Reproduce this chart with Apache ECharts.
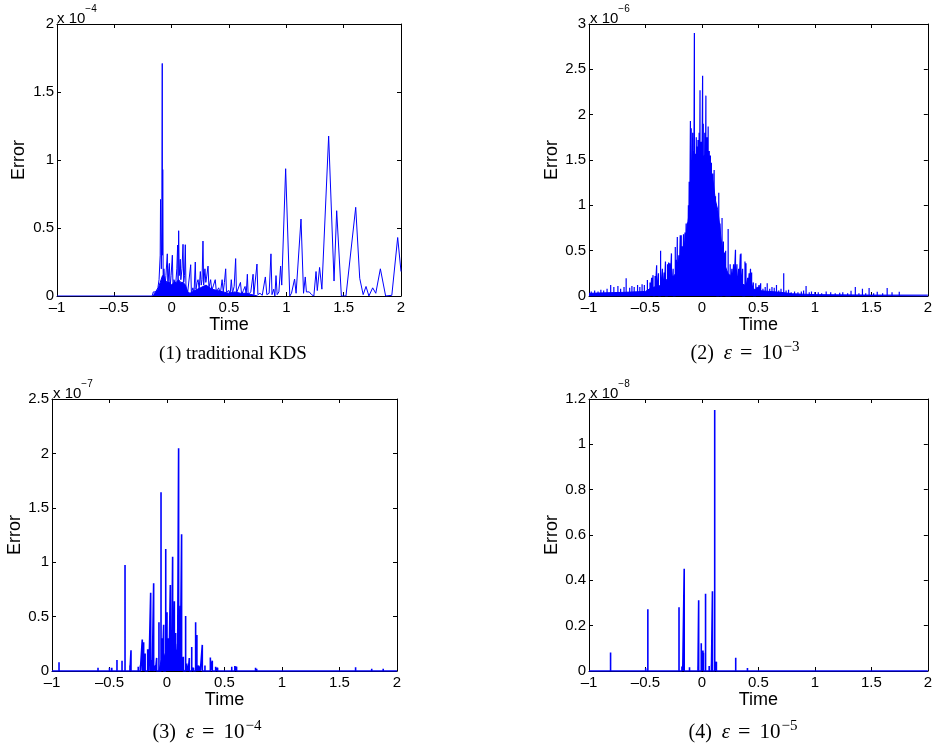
<!DOCTYPE html>
<html><head><meta charset="utf-8">
<script src="https://cdn.jsdelivr.net/npm/echarts@6/dist/echarts.min.js"></script>
<style>html,body{margin:0;padding:0;background:#fff}#c{width:935px;height:746px}</style>
</head><body><div id="c"></div>
<script>
// ---- Data (values in units of the axis exponent) ----
const xTickLabels = ['–1','–0.5','0','0.5','1','1.5','2'];
const exponents = ['−4','−6','−7','−8'];
const captionIds = ['(1)','(2)','(3)','(4)'];
const captionExps = [null,'−3','−4','−5'];

// Panel 1: traditional KDS, error x1e-4 (polyline)
const p1Curve = [[-1,0],[-0.17,0],[-0.16,0.03],[-0.15,0.02],[-0.14,0.03],[-0.13,0.02],[-0.12,0.06],[-0.11,0.12],[-0.10,0.3],[-0.097,0.71],[-0.09,0.2],[-0.086,0.5],[-0.082,1.71],[-0.080,0.3],[-0.078,0.93],[-0.074,0.1],[-0.068,0.2],[-0.064,0.21],[-0.058,0.08],[-0.05,0.15],[-0.038,0.31],[-0.033,0.05],[-0.025,0.2],[-0.02,0.24],[-0.014,0.06],[-0.005,0.15],[0.006,0.3],[0.012,0.05],[0.02,0.12],[0.035,0.08],[0.045,0.2],[0.052,0.375],[0.056,0.1],[0.061,0.48],[0.066,0.15],[0.075,0.27],[0.08,0.12],[0.09,0.2],[0.099,0.38],[0.105,0.1],[0.112,0.15],[0.119,0.377],[0.125,0.05],[0.14,0.03],[0.155,0.02],[0.166,0.23],[0.172,0.02],[0.185,0.06],[0.195,0.02],[0.206,0.25],[0.212,0.05],[0.222,0.1],[0.23,0.12],[0.24,0.05],[0.25,0.18],[0.258,0.08],[0.265,0.12],[0.273,0.404],[0.279,0.08],[0.29,0.2],[0.298,0.1],[0.305,0.14],[0.317,0.22],[0.325,0.06],[0.34,0.12],[0.35,0.04],[0.365,0.08],[0.38,0.12],[0.39,0.03],[0.41,0.06],[0.425,0.02],[0.44,0.12],[0.45,0.03],[0.46,0.1],[0.471,0.2],[0.478,0.03],[0.49,0.02],[0.5,0.04],[0.51,0.01],[0.52,0.12],[0.53,0.02],[0.545,0.07],[0.558,0.275],[0.565,0.02],[0.58,0.02],[0.6,0.1],[0.61,0.01],[0.625,0.04],[0.64,0.07],[0.65,0.01],[0.66,0.16],[0.667,0.01],[0.69,0.03],[0.71,0.16],[0.717,0.01],[0.73,0.02],[0.744,0.235],[0.752,0.01],[0.77,0.02],[0.79,0.005],[0.817,0.14],[0.83,0.01],[0.85,0.02],[0.866,0.31],[0.875,0.01],[0.885,0.02],[0.89,0.05],[0.9,0.0],[0.91,0.15],[0.92,0.01],[0.935,0.03],[0.95,0.22],[0.96,0.08],[0.994,0.936],[1.03,0.0],[1.045,0.02],[1.055,0.02],[1.072,0.125],[1.085,0.02],[1.1,0.03],[1.128,0.566],[1.15,0.02],[1.165,0.14],[1.175,0.03],[1.19,0.02],[1.2,0.03],[1.22,0.01],[1.24,0.0],[1.259,0.18],[1.27,0.04],[1.29,0.21],[1.31,0.05],[1.369,1.176],[1.416,0.11],[1.439,0.627],[1.48,0.0],[1.52,0.0],[1.535,0.0],[1.605,0.652],[1.64,0.13],[1.67,0.01],[1.695,0.07],[1.72,0.0],[1.753,0.06],[1.78,0.02],[1.82,0.2],[1.866,0.0],[1.92,0.005],[1.971,0.43],[2.0,0.18]];
const p1Body = [[-0.16,0],[-0.15,0.02],[-0.12,0.05],[-0.1,0.1],[-0.08,0.15],[-0.06,0.12],[-0.04,0.1],[-0.02,0.1],[0,0.08],[0.02,0.1],[0.04,0.1],[0.06,0.12],[0.08,0.1],[0.1,0.1],[0.12,0.08],[0.14,0.03],[0.16,0.02],[0.2,0.04],[0.25,0.06],[0.3,0.08],[0.35,0.05],[0.4,0.04],[0.45,0.03],[0.5,0.02],[0.55,0.03],[0.6,0.02],[0.65,0.02],[0.7,0.01],[0.75,0]];

// Panel 2: eps = 1e-3, error x1e-6
const p2Body = [[-1,0.03],[-0.7,0.04],[-0.5,0.05],[-0.45,0.09],[-0.35,0.12],[-0.3,0.2],[-0.25,0.22],[-0.2,0.3],[-0.17,0.45],[-0.14,0.65],[-0.12,0.85],[-0.1,1.1],[-0.08,1.35],[-0.06,1.45],[-0.03,1.5],[0,1.45],[0.03,1.45],[0.06,1.4],[0.08,1.35],[0.1,1.25],[0.12,1.05],[0.14,0.95],[0.16,0.75],[0.18,0.5],[0.2,0.35],[0.23,0.25],[0.27,0.2],[0.32,0.15],[0.38,0.12],[0.45,0.08],[0.5,0.06],[0.6,0.05],[0.7,0.04],[0.8,0.025],[0.9,0.02],[1.0,0.015],[1.5,0.01],[2.0,0.01]];
const p2Spikes = [[-0.98,0.05],[-0.95,0.06],[-0.92,0.05],[-0.895,0.07],[-0.87,0.06],[-0.84,0.08],[-0.808,0.12],[-0.78,0.1],[-0.744,0.11],[-0.72,0.08],[-0.69,0.1],[-0.671,0.195],[-0.64,0.09],[-0.62,0.11],[-0.6,0.1],[-0.57,0.12],[-0.55,0.1],[-0.53,0.13],[-0.51,0.12],[-0.483,0.177],[-0.46,0.15],[-0.445,0.2],[-0.433,0.23],[-0.415,0.22],[-0.401,0.34],[-0.385,0.25],[-0.366,0.5],[-0.35,0.3],[-0.335,0.26],[-0.323,0.38],[-0.305,0.35],[-0.295,0.37],[-0.285,0.36],[-0.27,0.47],[-0.255,0.3],[-0.236,0.54],[-0.225,0.4],[-0.218,0.65],[-0.205,0.45],[-0.192,0.67],[-0.183,0.67],[-0.173,0.55],[-0.163,0.68],[-0.15,0.7],[-0.14,0.8],[-0.128,0.81],[-0.12,1.0],[-0.113,1.26],[-0.102,1.93],[-0.095,1.85],[-0.082,1.80],[-0.075,1.6],[-0.067,2.90],[-0.058,1.57],[-0.05,1.75],[-0.042,1.65],[-0.035,1.72],[-0.025,1.8],[-0.017,2.27],[-0.008,1.7],[0.006,2.43],[0.012,1.9],[0.017,1.55],[0.025,1.8],[0.035,2.21],[0.045,1.75],[0.055,1.87],[0.065,1.6],[0.075,1.55],[0.084,1.47],[0.095,1.35],[0.108,1.39],[0.12,1.1],[0.13,0.95],[0.149,1.14],[0.16,0.8],[0.178,0.86],[0.19,0.6],[0.2,0.48],[0.21,0.5],[0.232,0.74],[0.25,0.35],[0.265,0.3],[0.28,0.35],[0.297,0.51],[0.31,0.35],[0.325,0.3],[0.34,0.46],[0.346,0.47],[0.36,0.3],[0.381,0.38],[0.39,0.36],[0.405,0.2],[0.418,0.25],[0.43,0.3],[0.44,0.26],[0.455,0.15],[0.477,0.14],[0.49,0.1],[0.505,0.12],[0.52,0.14],[0.54,0.08],[0.56,0.1],[0.578,0.14],[0.6,0.08],[0.62,0.1],[0.64,0.09],[0.66,0.12],[0.68,0.06],[0.7,0.08],[0.724,0.25],[0.745,0.06],[0.767,0.07],[0.79,0.04],[0.82,0.05],[0.85,0.04],[0.88,0.05],[0.9,0.06],[0.922,0.11],[0.95,0.04],[0.97,0.05],[1.0,0.045],[1.03,0.04],[1.06,0.03],[1.1,0.05],[1.14,0.04],[1.18,0.03],[1.22,0.035],[1.247,0.04],[1.29,0.03],[1.32,0.058],[1.358,0.1],[1.39,0.03],[1.421,0.08],[1.45,0.03],[1.48,0.088],[1.52,0.03],[1.552,0.047],[1.6,0.03],[1.64,0.088],[1.683,0.04],[1.72,0.02],[1.747,0.047],[1.8,0.02],[1.886,0.02],[1.93,0.02]];

// Panel 3: eps = 1e-4, error x1e-7
const p3Body = [[-0.07,0],[-0.05,0.1],[-0.02,0.15],[0,0.2],[0.03,0.25],[0.06,0.22],[0.09,0.18],[0.11,0.12],[0.13,0.05],[0.15,0]];
const p3Spikes = [[-0.939,0.08],[-0.85,0.015],[-0.75,0.01],[-0.6,0.03],[-0.5,0.03],[-0.48,0.03],[-0.435,0.1],[-0.391,0.095],[-0.365,0.974],[-0.322,0.05],[-0.313,0.19],[-0.25,0.04],[-0.232,0.05],[-0.215,0.29],[-0.203,0.265],[-0.19,0.16],[-0.168,0.2],[-0.157,0.2],[-0.142,0.72],[-0.128,0.1],[-0.116,0.806],[-0.1,0.05],[-0.09,0.12],[-0.07,0.447],[-0.052,1.643],[-0.04,0.3],[-0.029,0.425],[-0.011,1.121],[0.0,0.54],[0.008,0.3],[0.017,0.16],[0.029,0.79],[0.04,0.37],[0.049,1.05],[0.057,0.4],[0.064,0.64],[0.075,0.35],[0.084,0.19],[0.092,0.25],[0.101,2.047],[0.116,0.6],[0.127,1.256],[0.142,0.13],[0.162,0.505],[0.172,0.07],[0.185,0.05],[0.194,0.12],[0.215,0.22],[0.23,0.03],[0.249,0.447],[0.26,0.33],[0.275,0.05],[0.29,0.04],[0.307,0.24],[0.33,0.05],[0.377,0.125],[0.394,0.095],[0.423,0.04],[0.44,0.03],[0.5,0.01],[0.563,0.04],[0.59,0.045],[0.605,0.04],[0.77,0.03],[0.78,0.02],[1.64,0.035],[1.78,0.02],[1.88,0.02]];

// Panel 4: eps = 1e-5, error x1e-8
const p4Spikes = [[-0.809,0.082],[-0.58,0.005],[-0.498,0.012],[-0.479,0.272],[-0.203,0.281],[-0.177,0.02],[-0.17,0.02],[-0.157,0.451],[-0.11,0.016],[-0.07,0.006],[-0.035,0.02],[-0.029,0.312],[-0.006,0.122],[0.009,0.09],[0.013,0.08],[0.032,0.341],[0.064,0.022],[0.084,0.028],[0.093,0.352],[0.113,1.151],[0.128,0.041],[0.264,0.004],[0.299,0.059],[0.403,0.013]];

// ---- Build ----
const BLUE = '#0000ff';
const SANS = 'Liberation Sans, Arial, sans-serif';
const SERIF = 'Liberation Serif, Times New Roman, serif';

function spikeLine(sp) {
  const s = sp.slice().sort((a, b) => a[0] - b[0]);
  const out = [[-1, 0]];
  s.forEach(([t, v]) => { out.push([t, 0], [t, v], [t, 0]); });
  out.push([2, 0]);
  return out;
}
function fmtNum(v) {
  const r = +(+v).toFixed(3);
  return (r < 0 ? '–' : '') + String(Math.abs(r));
}
function capText(i) {
  if (!captionExps[i]) return '{t|' + captionIds[i] + ' traditional KDS}';
  return '{p|' + captionIds[i] + '}{e|ε}{q|=}{n|10}{s|' + captionExps[i] + '}';
}

const panels = [
  { grid: {left: 57, top: 24, width: 344, height: 272}, ymax: 2, yint: 0.5, nameGap: 29, expPos: [57, 4], capPos: [233, 340] },
  { grid: {left: 589, top: 24, width: 344, height: 272}, ymax: 3, yint: 0.5, nameGap: 18, expPos: [590, 4], capPos: [745, 340] },
  { grid: {left: 52, top: 399, width: 345, height: 272}, ymax: 2.5, yint: 0.5, nameGap: 19, expPos: [53, 379], capPos: [207, 719] },
  { grid: {left: 589, top: 399, width: 345, height: 272}, ymax: 1.2, yint: 0.2, nameGap: 19, expPos: [590, 379], capPos: [743, 719] }
];

const axisLine = {show: true, onZero: false, lineStyle: {color: '#000', width: 1}};
const axisTick = {show: true, inside: true, length: 4, lineStyle: {color: '#000', width: 1}};
const capRich = {
  t: {fontSize: 19, fontFamily: SERIF, fontWeight: 'normal', color: '#000', lineHeight: 24, verticalAlign: 'bottom'},
  p: {fontSize: 20, fontFamily: SERIF, fontWeight: 'normal', color: '#000', lineHeight: 24, verticalAlign: 'bottom', padding: [0, 10, 0, 0]},
  e: {fontSize: 21, fontFamily: SERIF, fontWeight: 'normal', fontStyle: 'italic', color: '#000', lineHeight: 24, verticalAlign: 'bottom', padding: [0, 8, 0, 0]},
  q: {fontSize: 22, fontFamily: SERIF, fontWeight: 'normal', color: '#000', lineHeight: 24, verticalAlign: 'bottom', padding: [0, 9, 0, 0]},
  n: {fontSize: 21, fontFamily: SERIF, fontWeight: 'normal', color: '#000', lineHeight: 24, verticalAlign: 'bottom', padding: [0, 1, 0, 0]},
  s: {fontSize: 15, fontFamily: SERIF, fontWeight: 'normal', color: '#000', lineHeight: 15, verticalAlign: 'top'}
};

const grid = [], xAxis = [], yAxis = [], title = [], series = [];
panels.forEach((p, g) => {
  grid.push(Object.assign({containLabel: false, show: false}, p.grid));
  const xb = {type: 'value', gridIndex: g, min: -1, max: 2, interval: 0.5, splitLine: {show: false}, axisLine, axisTick};
  xAxis.push(Object.assign({}, xb, {position: 'bottom', name: 'Time', nameLocation: 'middle', nameGap: 17,
    nameTextStyle: {fontSize: 18, color: '#000', fontFamily: SANS},
    axisLabel: {fontSize: 15, color: '#000', margin: 4, fontFamily: SANS,
      formatter: v => { const i = Math.round((v + 1) / 0.5); return xTickLabels[i] !== undefined ? xTickLabels[i] : fmtNum(v); }}}));
  xAxis.push(Object.assign({}, xb, {position: 'top', axisLabel: {show: false}}));
  const yb = {type: 'value', gridIndex: g, min: 0, max: p.ymax, interval: p.yint, splitLine: {show: false}, axisLine, axisTick};
  yAxis.push(Object.assign({}, yb, {position: 'left', name: 'Error', nameLocation: 'middle', nameRotate: 90, nameGap: p.nameGap,
    nameTextStyle: {fontSize: 18, color: '#000', fontFamily: SANS},
    axisLabel: {fontSize: 15, color: '#000', margin: 3, fontFamily: SANS, formatter: v => fmtNum(v)}}));
  yAxis.push(Object.assign({}, yb, {position: 'right', axisLabel: {show: false}}));

  title.push({
    left: p.expPos[0], top: p.expPos[1], padding: 0,
    text: '{a|x 10}{s|' + exponents[g] + '}',
    textStyle: {fontWeight: 'normal', rich: {
      a: {fontSize: 15, fontFamily: SANS, fontWeight: 'normal', color: '#000', lineHeight: 22, verticalAlign: 'bottom'},
      s: {fontSize: 10, fontFamily: SANS, fontWeight: 'normal', color: '#000', lineHeight: 10, verticalAlign: 'top'}
    }}
  });
  title.push({
    left: p.capPos[0], top: p.capPos[1], padding: 0, textAlign: 'center',
    text: capText(g),
    textStyle: {fontWeight: 'normal', rich: capRich}
  });
});

const base = (g) => ({type: 'line', xAxisIndex: 2 * g, yAxisIndex: 2 * g, showSymbol: false, symbol: 'none',
  animation: false, silent: true, clip: true});

series.push(Object.assign(base(0), {data: p1Body, lineStyle: {width: 1, color: BLUE}, areaStyle: {color: BLUE, opacity: 1}}));
series.push(Object.assign(base(0), {data: p1Curve, lineStyle: {width: 1, color: BLUE}}));
series.push(Object.assign(base(1), {data: p2Body, lineStyle: {width: 1, color: BLUE}, areaStyle: {color: BLUE, opacity: 1}}));
series.push(Object.assign(base(1), {data: spikeLine(p2Spikes), lineStyle: {width: 1.2, color: BLUE}}));
series.push(Object.assign(base(2), {data: p3Body, lineStyle: {width: 1, color: BLUE}, areaStyle: {color: BLUE, opacity: 1}}));
series.push(Object.assign(base(2), {data: spikeLine(p3Spikes), lineStyle: {width: 1.6, color: BLUE}}));
series.push(Object.assign(base(3), {data: spikeLine(p4Spikes), lineStyle: {width: 1.6, color: BLUE}}));

const chart = echarts.init(document.getElementById('c'), null, {renderer: 'canvas'});
chart.setOption({backgroundColor: '#fff', animation: false, grid, xAxis, yAxis, title, series});
</script></body></html>
